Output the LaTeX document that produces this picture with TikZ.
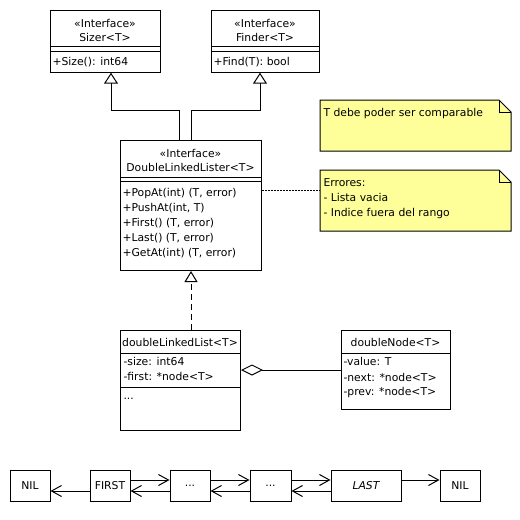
\documentclass[tikz,border=0pt]{standalone}
\usepackage{fontspec}
\setmainfont{DejaVu Sans}
\usetikzlibrary{arrows.meta,calc}
\definecolor{noteyellow}{RGB}{255,255,153}
\begin{document}
\begin{tikzpicture}[x=1pt,y=-1pt,line width=1pt,
  font=\fontsize{10.8}{15}\selectfont,
  cls/.style={draw,fill=white,inner sep=0pt,anchor=north west},
  notebox/.style={inner sep=0pt,anchor=north west},
  notefill/.style={draw,fill=noteyellow},
  lbl/.style={inner sep=0pt,anchor=mid west},
  clbl/.style={inner sep=0pt,anchor=mid},
  inh/.style={-{Triangle[open,length=11pt,width=14pt]}},
  real/.style={dash pattern=on 6pt off 4pt,-{Triangle[open,length=11pt,width=13pt]}},
  notelink/.style={line width=0.8pt,dash pattern=on 1.5pt off 1.5pt},
  agg/.style={{Diamond[open,length=22pt,width=11pt]}-},
  ptr/.style={-{Straight Barb[length=10pt,width=11pt]}},
  listbox/.style={draw,fill=white,inner sep=0pt,minimum height=31pt}
]
\useasboundingbox[fill=white] (0,0) rectangle (520,520);

% Sizer
\node[cls,minimum width=110pt,minimum height=61.7pt] (sizer) at (50,10) {};
\draw (50,46.7) -- (160,46.7);
\draw (50,51.7) -- (160,51.7);
\node[clbl] (sizerst) at (105,25) {«Interface»};
\node[clbl] (sizername) at (105,38.5) {Sizer<T>};
\node[lbl] (sizerop) at (52,62.5) {+Size(): int64};

% Finder
\node[cls,minimum width=108pt,minimum height=61.7pt] (finder) at (211,10) {};
\draw (211,46.7) -- (319,46.7);
\draw (211,51.7) -- (319,51.7);
\node[clbl] (finderst) at (265,25) {«Interface»};
\node[clbl] (findername) at (265,38.5) {Finder<T>};
\node[lbl] (finderop) at (213,62.5) {+Find(T): bool};

% DoubleLinkedLister
\node[cls,minimum width=141pt,minimum height=130pt] (dll) at (120,140) {};
\draw (120,177.3) -- (261,177.3);
\draw (120,181.7) -- (261,181.7);
\node[clbl] (dllst) at (190.5,155) {«Interface»};
\node[clbl] (dllname) at (190.5,168.5) {DoubleLinkedLister<T>};
\node[lbl] (op1) at (122,193.8) {+PopAt(int) (T, error)};
\node[lbl] (op2) at (122,208.8) {+PushAt(int, T)};
\node[lbl] (op3) at (122,223.8) {+First() (T, error)};
\node[lbl] (op4) at (122,238.8) {+Last() (T, error)};
\node[lbl] (op5) at (122,253.8) {+GetAt(int) (T, error)};

% Notes
\node[notebox,minimum width=190pt,minimum height=50pt] (note1) at (320,100) {};
\draw[notefill] (note1.north west) -- ([xshift=-12pt]note1.north east)
  -- ([yshift=-12pt]note1.north east) -- (note1.south east) -- (note1.south west) -- cycle;
\draw ([xshift=-12pt]note1.north east) |- ([yshift=-12pt]note1.north east);
\node[lbl] (note1t) at (323,113.5) {T debe poder ser comparable};

\node[notebox,minimum width=190pt,minimum height=60pt] (note2) at (320,170) {};
\draw[notefill] (note2.north west) -- ([xshift=-12pt]note2.north east)
  -- ([yshift=-12pt]note2.north east) -- (note2.south east) -- (note2.south west) -- cycle;
\draw ([xshift=-12pt]note2.north east) |- ([yshift=-12pt]note2.north east);
\node[lbl] (note2a) at (323,183.8) {Errores:};
\node[lbl] (note2b) at (323,198.8) {- Lista vacia};
\node[lbl] (note2c) at (323,213.8) {- Indice fuera del rango};

% doubleLinkedList
\node[cls,minimum width=120pt,minimum height=100pt] (dlist) at (120,330) {};
\draw (120,353) -- (240,353);
\draw (120,387) -- (240,387);
\node[clbl] (dlistname) at (180,343.5) {doubleLinkedList<T>};
\node[lbl] (dlista) at (123,362.5) {-size: int64};
\node[lbl] (dlistb) at (123,377.8) {-first: *node<T>};
\node[lbl] (dlistc) at (123,397) {...};

% doubleNode
\node[cls,minimum width=109pt,minimum height=79pt] (dnode) at (341,330) {};
\draw (341,353) -- (450,353);
\node[clbl] (dnodename) at (395.5,343.5) {doubleNode<T>};
\node[lbl] (dnodea) at (343,362.8) {-value: T};
\node[lbl] (dnodeb) at (343,378.3) {-next: *node<T>};
\node[lbl] (dnodec) at (343,393) {-prev: *node<T>};

% connectors (UML)
\draw[inh] ([xshift=59pt]dll.north west) -- ++(0,-30) -| ([xshift=61pt]sizer.south west);
\draw[inh] ([xshift=71pt]dll.north west) -- ++(0,-30) -| ([xshift=49pt]finder.south west);
\draw[real] (dll.south |- dlist.north) -- (dll.south);
\draw[notelink] (dll.east |- 0,190) -- (note2.west |- 0,190);
\draw[agg] (dlist.east |- dnode.west) -- (dnode.west);

% linked list
\node[listbox,minimum width=40pt] (nil1) at (30,485.5) {NIL};
\node[listbox,minimum width=40pt] (first) at (110,485.5) {FIRST};
\node[listbox,minimum width=40pt] (mid1) at (190,485.5) {...};
\node[listbox,minimum width=41pt] (mid2) at (270.5,485.5) {...};
\node[listbox,minimum width=70pt] (last) at (366,485.5) {\itshape LAST};
\node[listbox,minimum width=40pt] (nil2) at (460,485.5) {NIL};

\draw[ptr] ([yshift=-5.5pt]first.west) -- ([yshift=-5.5pt]nil1.east);
\draw[ptr] ([yshift=5.5pt]first.east) -- ([yshift=5.5pt]mid1.west);
\draw[ptr] ([yshift=-5.5pt]mid1.west) -- ([yshift=-5.5pt]first.east);
\draw[ptr] ([yshift=5.5pt]mid1.east) -- ([yshift=5.5pt]mid2.west);
\draw[ptr] ([yshift=-5.5pt]mid2.west) -- ([yshift=-5.5pt]mid1.east);
\draw[ptr] ([yshift=5.5pt]mid2.east) -- ([yshift=5.5pt]last.west);
\draw[ptr] ([yshift=-5.5pt]last.west) -- ([yshift=-5.5pt]mid2.east);
\draw[ptr] ([yshift=5.5pt]last.east) -- ([yshift=5.5pt]nil2.west);
\end{tikzpicture}
\end{document}
